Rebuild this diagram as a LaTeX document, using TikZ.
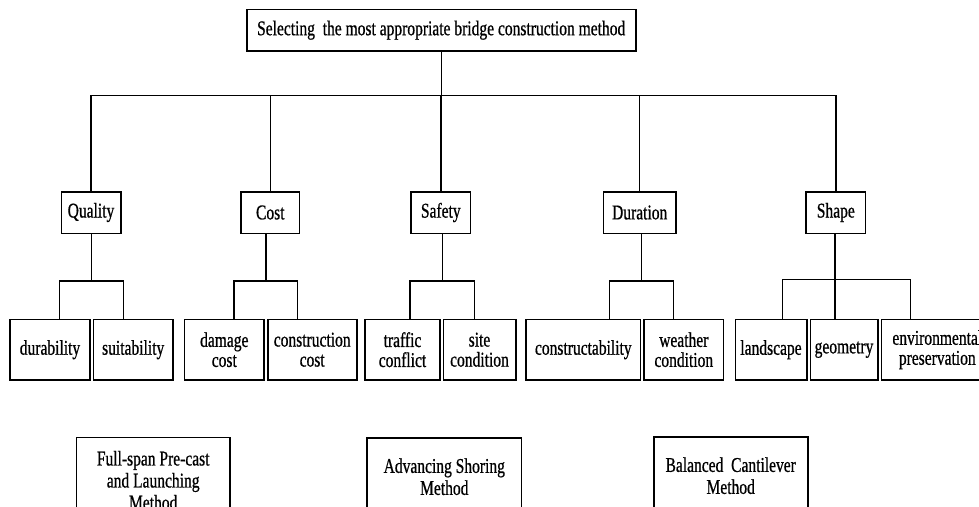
\documentclass[tikz,border=0pt]{standalone}
\usepackage{fontspec}
\newfontfamily\cf[FakeStretch=0.74,FakeBold=0.7]{Liberation Serif}
\usetikzlibrary{calc}
\begin{document}
\begin{tikzpicture}[x=1pt,y=-1pt,
  box/.style={draw, line width=1.6pt, inner sep=0pt, align=center,
    font=\cf\fontsize{21}{20}\selectfont},
  mbox/.style={box, font=\cf\fontsize{21}{22}\selectfont},
  conn/.style={line width=1.4pt}]
\useasboundingbox (0,0) rectangle (979,506);
\clip (0,0) rectangle (979,506);
% top
\node[box, minimum width=389pt, minimum height=41.7pt] (top) at (441.2,30.2) {Selecting\ \ the most appropriate bridge construction method};
% level 2
\node[box, minimum width=59.4pt, minimum height=41.6pt] (quality) at (91,212.5) {Quality};
\node[box, minimum width=58.7pt, minimum height=41.6pt] (cost) at (270.3,212.5) {Cost};
\node[box, minimum width=59.7pt, minimum height=41.6pt] (safety) at (440.8,212.5) {Safety};
\node[box, minimum width=72.7pt, minimum height=41.6pt] (duration) at (639.7,212.5) {Duration};
\node[box, minimum width=59.7pt, minimum height=41.6pt] (shape) at (835.8,212.5) {Shape};
% level 3
\node[box, minimum width=80pt, minimum height=60.7pt] (durability) at (50,349.7) {durability};
\node[box, minimum width=79.7pt, minimum height=60.7pt] (suitability) at (133.2,349.7) {suitability};
\node[box, minimum width=79.3pt, minimum height=60.7pt] (damage) at (224.3,349.7) {damage\\cost};
\node[box, minimum width=89pt, minimum height=60.7pt] (ccost) at (312.2,349.7) {construction\\cost};
\node[box, minimum width=75pt, minimum height=60.7pt] (traffic) at (402.5,349.7) {traffic\\conflict};
\node[box, minimum width=72.4pt, minimum height=60.7pt] (site) at (479.5,349.7) {site\\condition};
\node[box, minimum width=114.7pt, minimum height=60.7pt] (constr) at (583.3,349.7) {constructability};
\node[box, minimum width=79.7pt, minimum height=60.7pt] (weather) at (683.8,349.7) {weather\\condition};
\node[box, minimum width=71.4pt, minimum height=60.7pt] (landscape) at (771,349.7) {landscape};
\node[box, minimum width=67.4pt, minimum height=60.7pt] (geometry) at (844,349.7) {geometry};
\node[box, minimum width=112pt, minimum height=60.7pt] (env) at (937.3,349.7) {environmental\\preservation};
% bottom methods
\node[mbox, minimum width=153.7pt, minimum height=86pt] (fullspan) at (153.2,480.3) {Full-span Pre-cast\\and Launching\\Method};
\node[mbox, minimum width=154.7pt, minimum height=78pt] (advancing) at (444.3,476.7) {Advancing Shoring\\Method};
\node[mbox, minimum width=154pt, minimum height=78pt] (balanced) at (730.7,475.7) {Balanced\ \ Cantilever\\Method};
% level 1 connectors
\coordinate (bus) at (0,95.7);
\draw[conn] (top.south) -- (top.south |- bus);
\draw[conn] (quality.north) -- (quality.north |- bus) -- (shape.north |- bus) -- (shape.north);
\foreach \n in {cost,safety,duration} \draw[conn] (\n.north) -- (\n.north |- bus);
% quality
\coordinate (qa) at (59.3,281); \coordinate (qb) at (123.3,281);
\coordinate (qm) at ($(qa)!.5!(qb)$);
\draw[conn] (quality.south -| qm) -- (qm);
\draw[conn] (durability.north -| qa) -- (qa) -- (qb) -- (suitability.north -| qb);
% cost
\coordinate (ca) at (234,281); \coordinate (cb) at (297.7,281);
\coordinate (cm) at ($(ca)!.5!(cb)$);
\draw[conn] (cost.south -| cm) -- (cm);
\draw[conn] (damage.north -| ca) -- (ca) -- (cb) -- (ccost.north -| cb);
% safety
\coordinate (sa) at (410,281); \coordinate (sb) at (474.7,281);
\coordinate (sm) at ($(sa)!.5!(sb)$);
\draw[conn] (safety.south -| sm) -- (sm);
\draw[conn] (traffic.north -| sa) -- (sa) -- (sb) -- (site.north -| sb);
% duration
\coordinate (da) at (609.3,281); \coordinate (db) at (673.3,281);
\coordinate (dm) at ($(da)!.5!(db)$);
\draw[conn] (duration.south -| dm) -- (dm);
\draw[conn] (constr.north -| da) -- (da) -- (db) -- (weather.north -| db);
% shape
\coordinate (ha) at (782.7,279.3); \coordinate (hb) at (910.3,279.3);
\coordinate (hm) at (835,279.3);
\draw[conn] (shape.south -| hm) -- (geometry.north -| hm);
\draw[conn] (landscape.north -| ha) -- (ha) -- (hb) -- (env.north -| hb);
\end{tikzpicture}
\end{document}
